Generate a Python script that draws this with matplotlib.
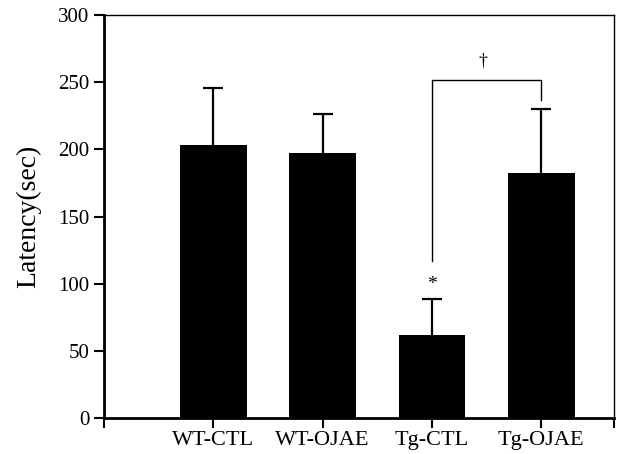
import matplotlib.pyplot as plt

# group labels and values
groups = ['WT-CTL', 'WT-OJAE', 'Tg-CTL', 'Tg-OJAE']
latency = [203, 197.5, 62, 182.5]
sd = [43, 28.5, 27, 47.5]

# significance bracket between Tg-CTL and Tg-OJAE
bracket_top = 251.5
bracket_left_end = 117
bracket_right_end = 237

plt.rcParams['font.family'] = ['Liberation Serif', 'DejaVu Serif']

fig = plt.figure(figsize=(6.2, 4.54), dpi=100)
ax = fig.add_axes([0.168, 0.079, 0.823, 0.888])

x = [1, 2, 3, 4]
ax.bar(x, latency, width=0.61, color='black', zorder=2)

# upper error bars only (stem + cap)
tops = [v + e for v, e in zip(latency, sd)]
ax.vlines(x, latency, tops, color='black', lw=1.6, zorder=1)
ax.plot(x, tops, ls='none', marker='_', ms=14, mew=1.6, color='black')

# bracket
ax.plot([3, 3, 4, 4], [bracket_left_end, bracket_top, bracket_top, bracket_right_end],
        color='black', lw=1.0)
ax.text(3, tops[2] + 4, '*', ha='center', va='bottom', fontsize=14)
ax.text(3.47, bracket_top + 8, '\u2020', ha='center', va='bottom', fontsize=13)

ax.set_xlim(0, 4.67)
ax.set_ylim(0, 300)
ax.set_yticks(range(0, 301, 50))
ax.set_xticks([0, 1, 2, 3, 4, 4.67])
ax.set_xticklabels([''] + groups + [''])
ax.tick_params(axis='both', direction='out', length=7, width=1.5, labelsize=15)
ax.tick_params(axis='x', pad=2, labelsize=16)
for s in ['left', 'bottom']:
    ax.spines[s].set_linewidth(2)
for s in ['top', 'right']:
    ax.spines[s].set_linewidth(1)

ax.set_ylabel('Latency(sec)', fontsize=20, labelpad=12)

fig.savefig('out.png', dpi=100)
